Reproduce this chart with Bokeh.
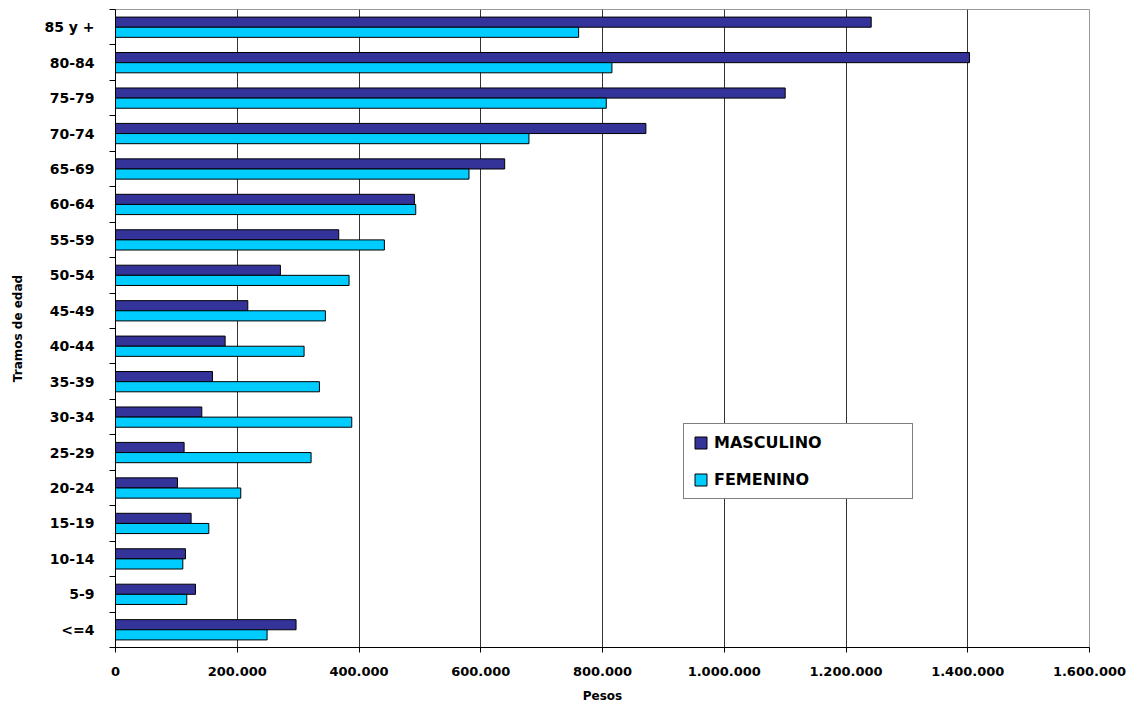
from bokeh.plotting import figure
from bokeh.models import Range1d, FixedTicker, Legend, LegendItem, ColumnDataSource
from bokeh.embed import file_html
from bokeh.resources import INLINE

categories = ["<=4", "5-9", "10-14", "15-19", "20-24", "25-29", "30-34", "35-39", "40-44",
              "45-49", "50-54", "55-59", "60-64", "65-69", "70-74", "75-79", "80-84", "85 y +"]
masculino = [296600, 131400, 114900, 124200, 101800, 112700, 141800, 159300, 180100,
             217300, 270900, 366700, 491000, 639300, 871300, 1100100, 1402800, 1241400]
femenino = [249000, 117100, 110600, 153300, 205800, 321300, 388100, 335000, 309800,
            344800, 383700, 441700, 493200, 580700, 679200, 806200, 815500, 760800]
x_ticks = [0, 200000, 400000, 600000, 800000, 1000000, 1200000, 1400000, 1600000]
x_tick_labels = ["0", "200.000", "400.000", "600.000", "800.000", "1.000.000",
                 "1.200.000", "1.400.000", "1.600.000"]

n = len(categories)
bar_h = 0.286
centers = [i + 0.5 for i in range(n)]
src = ColumnDataSource(dict(
    cat=categories,
    center=centers,
    y_m=[c + bar_h / 2 for c in centers],
    y_f=[c - bar_h / 2 for c in centers],
    masculino=masculino,
    femenino=femenino,
))

FONT = "DejaVu Sans"

p = figure(width=1130, height=705, output_backend="svg", toolbar_location=None,
           x_range=Range1d(0, 1600000), y_range=Range1d(0, n),
           min_border_left=115, min_border_right=41, min_border_top=9, min_border_bottom=55)
p.background_fill_color = "white"
p.border_fill_color = "white"
p.outline_line_color = "#999999"
p.outline_line_width = 1

r_m = p.hbar(y="y_m", left=0, right="masculino", height=bar_h, source=src,
             fill_color="#333399", line_color="black", line_width=1)
r_f = p.hbar(y="y_f", left=0, right="femenino", height=bar_h, source=src,
             fill_color="#00CCFF", line_color="black", line_width=1)

# x axis
xa = p.xaxis[0]
xa.ticker = FixedTicker(ticks=x_ticks)
xa.major_label_overrides = {t: l for t, l in zip(x_ticks, x_tick_labels)}
xa.axis_label = "Pesos"
xa.axis_line_color = "black"
xa.major_tick_line_color = "black"
xa.major_tick_out = 5
xa.major_tick_in = 0
xa.minor_tick_line_color = None
xa.major_label_standoff = 14
xa.axis_label_standoff = 10
xa.major_label_text_font = FONT
xa.major_label_text_font_style = "bold"
xa.major_label_text_font_size = "13px"
xa.major_label_text_color = "black"
xa.axis_label_text_font = FONT
xa.axis_label_text_font_style = "bold"
xa.axis_label_text_font_size = "12px"
xa.axis_label_text_color = "black"

# y axis
ya = p.yaxis[0]
ya.ticker = FixedTicker(ticks=centers, minor_ticks=list(range(n + 1)))
ya.major_label_overrides = {c: l for c, l in zip(centers, categories)}
ya.axis_label = "Tramos de edad"
ya.axis_line_color = "black"
ya.major_tick_line_color = None
ya.major_tick_out = 0
ya.major_tick_in = 0
ya.minor_tick_line_color = "black"
ya.minor_tick_out = 6
ya.minor_tick_in = 0
ya.major_label_standoff = 15
ya.axis_label_standoff = 16
ya.major_label_text_font = FONT
ya.major_label_text_font_style = "bold"
ya.major_label_text_font_size = "14px"
ya.major_label_text_color = "black"
ya.axis_label_text_font = FONT
ya.axis_label_text_font_style = "bold"
ya.axis_label_text_font_size = "12px"
ya.axis_label_text_color = "black"

p.xgrid.ticker = FixedTicker(ticks=x_ticks[1:-1])
p.xgrid.grid_line_color = "#333333"
p.xgrid.grid_line_width = 1
p.ygrid.grid_line_color = None

legend = Legend(items=[LegendItem(label="MASCULINO", renderers=[r_m]),
                       LegendItem(label="FEMENINO", renderers=[r_f])],
                location=(568, 148))
legend.padding = 9
legend.margin = 0
legend.spacing = 18
legend.glyph_width = 15
legend.glyph_height = 15
legend.label_height = 15
legend.label_width = 189
legend.label_standoff = 6
legend.border_line_color = "black"
legend.border_line_width = 1
legend.background_fill_color = "white"
legend.background_fill_alpha = 1
legend.label_text_font = FONT
legend.label_text_font_style = "bold"
legend.label_text_font_size = "16px"
legend.label_text_color = "black"
p.add_layout(legend)

open("out.html", "w").write(file_html(p, INLINE))
